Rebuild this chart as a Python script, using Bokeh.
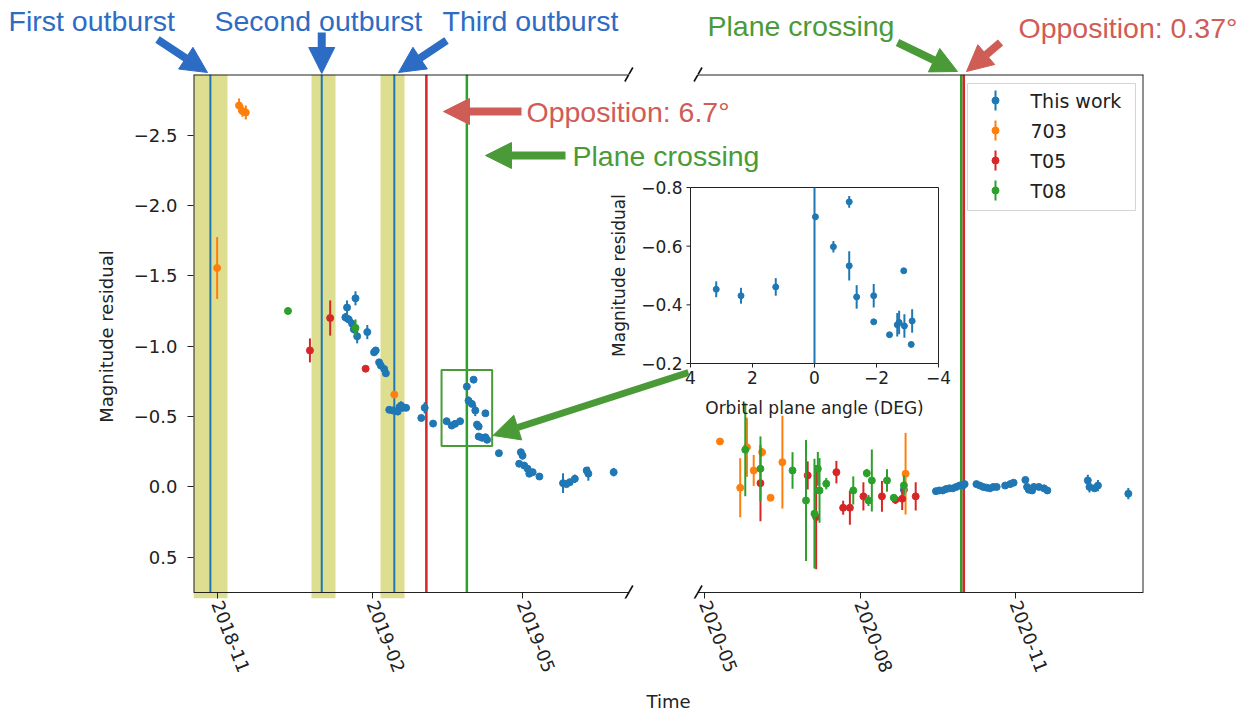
import numpy as np
import pandas as pd
from bokeh.plotting import figure
from bokeh.layouts import column
from bokeh.models import Range1d, FixedTicker, Label, Arrow, NormalHead
from bokeh.core.properties import value
from bokeh.embed import file_html
from bokeh.resources import INLINE

# ---------------- data ----------------
this_dates = ["2019-01-16", "2019-01-17", "2019-01-18", "2019-01-20", "2019-01-21", "2019-01-22",
              "2019-01-23", "2019-01-29", "2019-02-02", "2019-02-03", "2019-02-05", "2019-02-06",
              "2019-02-08", "2019-02-09", "2019-02-11", "2019-02-13", "2019-02-17", "2019-02-18",
              "2019-02-19", "2019-02-21", "2019-02-16", "2019-03-02", "2019-03-04", "2019-03-09",
              "2019-03-17", "2019-03-20", "2019-03-22", "2019-03-25", "2019-03-29", "2019-03-30",
              "2019-04-01", "2019-04-02", "2019-04-03", "2019-04-04", "2019-04-05", "2019-04-05",
              "2019-04-07", "2019-04-09", "2019-04-09", "2019-04-10", "2019-04-17", "2019-04-29",
              "2019-04-30", "2019-05-01", "2019-05-02", "2019-05-04", "2019-05-05", "2019-05-07",
              "2019-05-11", "2019-05-25", "2019-05-27", "2019-05-29", "2019-06-01", "2019-06-08",
              "2019-06-09", "2019-06-24",
              "2020-08-27", "2020-09-15", "2020-09-17", "2020-09-19", "2020-09-21", "2020-09-23",
              "2020-09-25", "2020-09-27", "2020-09-29", "2020-10-01", "2020-10-02", "2020-10-09",
              "2020-10-11", "2020-10-13", "2020-10-15", "2020-10-17", "2020-10-19", "2020-10-21",
              "2020-10-26", "2020-10-29", "2020-10-31", "2020-11-07", "2020-11-08", "2020-11-09",
              "2020-11-11", "2020-11-12", "2020-11-15", "2020-11-18", "2020-11-20", "2020-12-14",
              "2020-12-15", "2020-12-18", "2020-12-20", "2021-01-07"]
this_vals = [-1.205, -1.275, -1.19, -1.16, -1.12, -1.34,
             -1.07, -1.10, -0.956, -0.97, -0.885, -0.862,
             -0.838, -0.807, -0.548, -0.543, -0.566, -0.578,
             -0.562, -0.562, -0.535, -0.49, -0.562, -0.45,
             -0.467, -0.436, -0.448, -0.467, -0.713, -0.613,
             -0.59, -0.762, -0.543, -0.443, -0.429, -0.358,
             -0.349, -0.353, -0.523, -0.335, -0.24, -0.165,
             -0.247, -0.223, -0.152, -0.129, -0.094, -0.105,
             -0.074, -0.027, -0.02, -0.034, -0.058, -0.117,
             -0.094, -0.105,
             0.02, 0.03, 0.025, 0.025, 0.015, 0.01,
             0.01, 0.0, -0.01, -0.01, -0.02, -0.02,
             -0.01, 0.0, 0.005, 0.01, 0.0, 0.0,
             -0.01, -0.02, -0.03, -0.05, 0.0, 0.02,
             0.025, 0.0, 0.0, 0.01, 0.025, -0.046,
             0.0, 0.01, -0.01, 0.048]
this_errs = [0.03, 0.05, 0.03, 0.03, 0.03, 0.05,
             0.05, 0.05, 0.02, 0.02, 0.02, 0.02,
             0.02, 0.02, 0.02, 0.02, 0.02, 0.03,
             0.02, 0.02, 0.02, 0.02, 0.04, 0.02,
             0.02, 0.02, 0.02, 0.02, 0.02, 0.03,
             0.02, 0.02, 0.04, 0.02, 0.02, 0.02,
             0.02, 0.02, 0.02, 0.02, 0.02, 0.02,
             0.02, 0.03, 0.02, 0.02, 0.02, 0.02,
             0.02, 0.07, 0.02, 0.02, 0.03, 0.02,
             0.05, 0.03,
             0.02, 0.02, 0.02, 0.02, 0.02, 0.02,
             0.02, 0.02, 0.02, 0.02, 0.02, 0.02,
             0.02, 0.02, 0.02, 0.02, 0.02, 0.02,
             0.02, 0.02, 0.02, 0.02, 0.02, 0.02,
             0.02, 0.02, 0.02, 0.02, 0.02, 0.04,
             0.04, 0.02, 0.04, 0.04]

o703_dates = ["2018-11-01", "2018-11-14", "2018-11-16", "2018-11-18", "2019-02-14",
              "2020-05-10", "2020-05-22", "2020-05-26", "2020-05-30", "2020-06-04",
              "2020-06-09", "2020-06-16", "2020-08-28"]
o703_vals = [-1.555, -2.71, -2.67, -2.66, -0.656,
             -0.323, 0.006, -0.282, -0.117, -0.247,
             0.077, -0.176, -0.094]
o703_errs = [0.22, 0.05, 0.04, 0.05, 0.02,
             0.02, 0.21, 0.21, 0.11, 0.03,
             0.02, 0.33, 0.29]

t05_dates = ["2018-12-26", "2019-01-07", "2019-01-28",
             "2020-06-03", "2020-07-01", "2020-07-06", "2020-07-18", "2020-07-22",
             "2020-07-26", "2020-08-03", "2020-08-14", "2020-08-22", "2020-08-26", "2020-09-03"]
t05_vals = [-0.97, -1.20, -0.84,
            -0.027, -0.082, 0.214, -0.105, 0.148,
            0.148, 0.067, 0.067, 0.091, 0.084, 0.067]
t05_errs = [0.085, 0.125, 0.01,
            0.27, 0.10, 0.37, 0.08, 0.05,
            0.12, 0.10, 0.11, 0.03, 0.08, 0.10]

t08_dates = ["2018-12-13", "2019-01-22",
             "2020-05-25", "2020-06-03", "2020-06-22", "2020-06-30", "2020-07-05", "2020-07-07",
             "2020-07-08", "2020-07-12", "2020-07-28", "2020-08-05", "2020-08-06", "2020-08-08",
             "2020-08-17", "2020-08-21", "2020-08-27"]
t08_vals = [-1.25, -1.13,
            -0.264, -0.129, -0.117, 0.096, 0.19, -0.129,
            0.025, -0.023, 0.025, -0.098, 0.096, -0.046,
            -0.046, 0.077, -0.011]
t08_errs = [0.01, 0.06,
            0.33, 0.23, 0.13, 0.43, 0.39, 0.12,
            0.23, 0.04, 0.10, 0.03, 0.04, 0.22,
            0.08, 0.02, 0.07]

outburst_dates = ["2018-10-28", "2019-01-02", "2019-02-14"]
outburst_starts = ["2018-10-18", "2018-12-27", "2019-02-06"]
outburst_ends = ["2018-11-07", "2019-01-10", "2019-02-20"]
opposition_dates = ["2019-03-05", "2020-10-01T12:00"]
crossing_dates = ["2019-03-29", "2020-09-30"]

zoom_box_dates = ["2019-03-14", "2019-04-13"]
zoom_box_vals = [-0.83, -0.29]

inset_angle = [3.17, 2.37, 1.25, -0.03, -1.12, -0.61, -1.12, -1.36, -1.91, -1.91,
               -2.42, -2.67, -2.73, -2.88, -2.90, -3.15, -3.12]
inset_resid = [-0.453, -0.431, -0.461, -0.70, -0.751, -0.598, -0.533, -0.427, -0.431, -0.342,
               -0.298, -0.332, -0.34, -0.516, -0.328, -0.345, -0.265]
inset_err = [0.027, 0.027, 0.03, 0.004, 0.02, 0.02, 0.05, 0.04, 0.04, 0.006,
             0.006, 0.04, 0.04, 0.006, 0.04, 0.04, 0.006]
inset_crossing = [0.0]

y_ticks = [-2.5, -2.0, -1.5, -1.0, -0.5, 0.0, 0.5]
y_tick_labels = ["\u22122.5", "\u22122.0", "\u22121.5", "\u22121.0", "\u22120.5", "0.0", "0.5"]
x_tick_dates = ["2018-11-01", "2019-02-01", "2019-05-01", "2020-05-01", "2020-08-01", "2020-11-01"]
x_tick_labels = ["2018-11", "2019-02", "2019-05", "2020-05", "2020-08", "2020-11"]
inset_xticks = [4, 2, 0, -2, -4]
inset_xlabels = ["4", "2", "0", "\u22122", "\u22124"]
inset_yticks = [-0.8, -0.6, -0.4, -0.2]
inset_ylabels = ["\u22120.8", "\u22120.6", "\u22120.4", "\u22120.2"]
inset_xlim = [4, -4]
inset_ylim = [-0.2, -0.8]

# ---------------- broken time axis ----------------
LEFT_ORIGIN = pd.Timestamp("2018-11-01")
LEFT_LIMITS = (pd.Timestamp("2018-10-18"), pd.Timestamp("2019-07-03"))
RIGHT_LIMITS = (pd.Timestamp("2020-04-27"), pd.Timestamp("2021-01-16"))
GAP_DAYS = 41
DAY = pd.Timedelta(days=1)


def to_u(dates):
    out = []
    for d in dates:
        d = pd.Timestamp(d)
        if d <= LEFT_LIMITS[1] + 5 * DAY:
            out.append((d - LEFT_ORIGIN) / DAY)
        else:
            out.append((LEFT_LIMITS[1] - LEFT_ORIGIN) / DAY + GAP_DAYS + (d - RIGHT_LIMITS[0]) / DAY)
    return np.array(out, dtype=float)


XMIN = to_u([LEFT_LIMITS[0]])[0]
LEFT_END = to_u([LEFT_LIMITS[1]])[0]
RIGHT_START = to_u([RIGHT_LIMITS[0]])[0]
XMAX = to_u([RIGHT_LIMITS[1]])[0]
YBOT, YTOP = 0.75, -2.93

# geometry (page pixels)
W = 1250
HEAD_H = 74
FL, FT, FW, FH = 193, 74, 950, 518
EXTRA_B = 6  # frame extends below the panel so that ticks can be drawn inwards
UNIT = (YBOT - YTOP) / FH
YBOT_FRAME = YBOT + EXTRA_B * UNIT
DX = (XMAX - XMIN) / FW


def px_x(px):
    return XMIN + (px - FL) * DX


def px_y(py):
    return YTOP + (py - FT) * UNIT


C_BLUE, C_ORANGE, C_RED, C_GREEN = "#1f77b4", "#ff7f0e", "#d62728", "#2ca02c"
A_BLUE, A_RED, A_GREEN = "#2d6cc4", "#cf5c55", "#4a9b38"
ANN_FONT = "Liberation Sans"
INK = "#222222"

# ---------------- header (annotation strip above the panels) ----------------
head = figure(frame_width=W, frame_height=HEAD_H,
              x_range=Range1d(px_x(0), px_x(W)), y_range=Range1d(HEAD_H, 0),
              output_backend="svg", toolbar_location=None,
              x_axis_location=None, y_axis_location=None, title_location=None,
              min_border=0, outline_line_color=None, frame_align=False,
              background_fill_color="white", border_fill_color="white")
head.grid.visible = False

# ---------------- main figure ----------------
p = figure(frame_width=FW, frame_height=FH + EXTRA_B,
           x_range=Range1d(XMIN, XMAX), y_range=Range1d(YBOT_FRAME, YTOP),
           output_backend="svg", toolbar_location=None, title_location=None,
           min_border_left=FL, min_border_top=0,
           min_border_right=W - (FL + FW), min_border_bottom=117,
           outline_line_color=None, background_fill_color="white",
           border_fill_color="white", frame_align=False)
p.xgrid.visible = False
p.ygrid.visible = False

# y axis
p.yaxis.ticker = FixedTicker(ticks=y_ticks)
p.yaxis.major_label_overrides = dict(zip(y_ticks, y_tick_labels))
p.yaxis.minor_tick_line_color = None
p.yaxis.major_tick_out = 6
p.yaxis.major_tick_in = 0
p.yaxis.major_label_standoff = 10
p.yaxis.axis_label = "Magnitude residual"
p.yaxis.axis_label_standoff = 14
p.yaxis.axis_line_color = None
p.yaxis.major_tick_line_color = INK

# x axis
tick_u = [float(v) for v in to_u(x_tick_dates)]
p.xaxis.ticker = FixedTicker(ticks=tick_u)
p.xaxis.major_label_overrides = dict(zip(tick_u, x_tick_labels))
p.xaxis.minor_tick_line_color = None
p.xaxis.major_tick_out = 0
p.xaxis.major_tick_in = EXTRA_B
p.xaxis.major_label_standoff = 3
p.xaxis.major_label_orientation = -1.2
p.xaxis.axis_line_color = None
p.xaxis.major_tick_line_color = INK
p.xaxis.axis_label = "Time"
p.xaxis.axis_label_standoff = 12

for ax in (p.xaxis, p.yaxis):
    ax.major_label_text_font = "DejaVu Sans"
    ax.major_label_text_font_size = "18px"
    ax.major_label_text_color = INK
    ax.axis_label_text_font = "DejaVu Sans"
    ax.axis_label_text_font_size = "18px"
    ax.axis_label_text_font_style = "normal"
    ax.axis_label_text_color = INK

# outburst bands and event lines
p.vstrip(x0=to_u(outburst_starts), x1=to_u(outburst_ends),
         fill_color="#bcbd22", fill_alpha=0.5, line_color=None)
p.segment(x0=to_u(outburst_dates), x1=to_u(outburst_dates), y0=YBOT, y1=YTOP,
          line_color=C_BLUE, line_width=2)
p.segment(x0=to_u(crossing_dates), x1=to_u(crossing_dates), y0=YBOT, y1=YTOP,
          line_color=C_GREEN, line_width=2.5)
p.segment(x0=to_u(opposition_dates), x1=to_u(opposition_dates), y0=YBOT, y1=YTOP,
          line_color=C_RED, line_width=2.5)

# spines (broken)
p.segment(x0=[XMIN, RIGHT_START], x1=[LEFT_END, XMAX], y0=[YTOP, YTOP], y1=[YTOP, YTOP],
          line_color=INK, line_width=2)
p.segment(x0=[XMIN, RIGHT_START], x1=[LEFT_END, XMAX], y0=[YBOT, YBOT], y1=[YBOT, YBOT],
          line_color=INK, line_width=1.2)
p.segment(x0=[XMIN, XMAX], x1=[XMIN, XMAX], y0=[YBOT, YBOT], y1=[YTOP, YTOP],
          line_color=INK, line_width=2)

# data series with error bars
series = [("This work", this_dates, this_vals, this_errs, C_BLUE),
          ("703", o703_dates, o703_vals, o703_errs, C_ORANGE),
          ("T05", t05_dates, t05_vals, t05_errs, C_RED),
          ("T08", t08_dates, t08_vals, t08_errs, C_GREEN)]
for name, d, v, e, c in series:
    u = to_u(d)
    v = np.array(v)
    e = np.array(e)
    p.segment(x0=u, x1=u, y0=v - e, y1=v + e, line_color=c, line_width=2)
    p.scatter(u, v, size=7, color=c)

# zoom box
bu = to_u(zoom_box_dates)
p.quad(left=[bu[0]], right=[bu[1]], top=[zoom_box_vals[0]], bottom=[zoom_box_vals[1]],
       fill_color=None, line_color=A_GREEN, line_width=2)

# ---------------- legend (errorbar style keys) ----------------
names = [s[0] for s in series]
colors = [s[4] for s in series]
rows = np.array([100, 130, 160, 190])
p.quad(left=[px_x(967)], right=[px_x(1135)], top=[px_y(83)], bottom=[px_y(210)],
       fill_color="white", fill_alpha=0.85, line_color="#d5d5d5", line_width=1)
kx = px_x(995)
p.segment(x0=[kx] * 4, x1=[kx] * 4, y0=px_y(rows - 10), y1=px_y(rows + 10),
          line_color=colors, line_width=2)
p.scatter([kx] * 4, px_y(rows), size=7, color=colors)
p.text(x=[px_x(1030)] * 4, y=px_y(rows), text=names, text_baseline="middle",
       text_align="left", text_font=value("DejaVu Sans"), text_font_size="19px",
       text_color=INK)

# ---------------- inset ----------------
sub = p.subplot(x_source=Range1d(inset_xlim[0], inset_xlim[1]),
                y_source=Range1d(inset_ylim[0], inset_ylim[1]),
                x_target=Range1d(px_x(690), px_x(938)),
                y_target=Range1d(px_y(363), px_y(187)))
sub.quad(left=[inset_xlim[0]], right=[inset_xlim[1]], bottom=[inset_ylim[0]], top=[inset_ylim[1]],
         fill_color="white", line_color=INK, line_width=1)
sub.segment(x0=inset_crossing, x1=inset_crossing, y0=[inset_ylim[0]], y1=[inset_ylim[1]],
            line_color=C_BLUE, line_width=2)
ia = np.array(inset_angle)
ir = np.array(inset_resid)
ie = np.array(inset_err)
sub.segment(x0=ia, x1=ia, y0=ir - ie, y1=ir + ie, line_color=C_BLUE, line_width=2)
sub.scatter(ia, ir, size=6, color=C_BLUE)
sub.ray(x=inset_xticks, y=[inset_ylim[0]] * len(inset_xticks), length=4, angle=-np.pi / 2,
        length_units="screen", line_color=INK, line_width=1)
sub.ray(x=[inset_xlim[0]] * len(inset_yticks), y=inset_yticks, length=4, angle=np.pi,
        length_units="screen", line_color=INK, line_width=1)
sub.text(x=inset_xticks, y=[inset_ylim[0]] * len(inset_xticks), text=inset_xlabels,
         y_offset=7, text_align="center", text_baseline="top",
         text_font=value("DejaVu Sans"), text_font_size="17px", text_color=INK)
sub.text(x=[inset_xlim[0]] * len(inset_yticks), y=inset_yticks, text=inset_ylabels,
         x_offset=-8, text_align="right", text_baseline="middle",
         text_font=value("DejaVu Sans"), text_font_size="17px", text_color=INK)
sub.text(x=[0], y=[inset_ylim[0]], text=["Orbital plane angle (DEG)"], y_offset=34,
         text_align="center", text_baseline="top",
         text_font=value("DejaVu Sans"), text_font_size="17px", text_color=INK)
sub.text(x=[inset_xlim[0]], y=[-0.5], text=["Magnitude residual"], x_offset=-72, angle=np.pi / 2,
         text_align="center", text_baseline="middle",
         text_font=value("DejaVu Sans"), text_font_size="17px", text_color=INK)


# ---------------- annotations ----------------
def add_label(fig, text, x, y, color):
    fig.add_layout(Label(x=x, y=y, text=text, text_color=color,
                         text_font=ANN_FONT, text_font_size="28.5px",
                         text_align="left", text_baseline="middle"))


def add_arrow(fig, x0, y0, x1, y1, color, width=8, head=26):
    fig.add_layout(Arrow(end=NormalHead(size=head, fill_color=color, line_color=color, line_width=1),
                         x_start=x0, y_start=y0, x_end=x1, y_end=y1,
                         line_color=color, line_width=width))


ob = to_u(outburst_dates)
add_label(head, "First outburst", px_x(8), 20, A_BLUE)
add_label(head, "Second outburst", px_x(214), 20, A_BLUE)
add_label(head, "Third outburst", px_x(442), 20, A_BLUE)
add_label(head, "Plane crossing", px_x(707), 25, A_GREEN)
add_label(head, "Opposition: 0.37\u00b0", px_x(1018), 27, A_RED)
add_arrow(head, px_x(157), 39, px_x(207), 72, A_BLUE)
add_arrow(head, ob[1], 32, ob[1], 73, A_BLUE)
add_arrow(head, px_x(446), 40, px_x(398), 72, A_BLUE)
add_arrow(head, px_x(897), 42, px_x(957), 71, A_GREEN)
add_arrow(head, px_x(1000), 42, px_x(966), 71, A_RED)

add_label(p, "Opposition: 6.7\u00b0", px_x(526), px_y(111), A_RED)
add_label(p, "Plane crossing", px_x(572), px_y(155), A_GREEN)
add_arrow(p, px_x(521), px_y(111), px_x(443), px_y(111), A_RED)
add_arrow(p, px_x(565), px_y(155), px_x(485), px_y(155), A_GREEN)
add_arrow(p, px_x(688), px_y(372), bu[1] + 0.5, px_y(435), A_GREEN, width=7)

# axis-break marks
for bx in (LEFT_END, RIGHT_START):
    head.segment(x0=[bx - 4 * DX], x1=[bx + 4 * DX], y0=[FT + 7], y1=[FT - 7],
                 line_color="#111111", line_width=1.6)
    p.segment(x0=[bx - 4 * DX, bx - 4 * DX], x1=[bx + 4 * DX, bx + 4 * DX],
              y0=[px_y(FT + 7), px_y(FT + FH + 7)], y1=[px_y(FT - 7), px_y(FT + FH - 7)],
              line_color="#111111", line_width=1.6)

layout = column(head, p, spacing=0)
open("out.html", "w").write(file_html(layout, INLINE))
